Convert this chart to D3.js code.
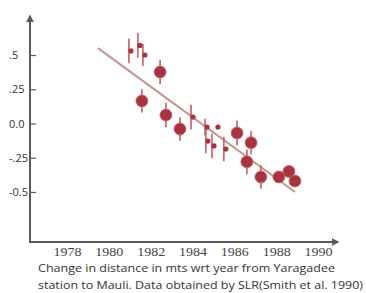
<!DOCTYPE html>
<html>
<head>
<meta charset="utf-8">
<script src="https://cdn.jsdelivr.net/npm/d3@7"></script>
<style>
  body { margin: 0; background: #fff; }
  svg { display: block; }
</style>
</head>
<body>
<div id="chart"></div>
<script>
const width = 366, height = 293;

// year, value, error (half bar)
const bigPoints = [
  [1981.58, 0.165, 0.085],
  [1982.45, 0.376, 0.09],
  [1982.73, 0.062, 0.09],
  [1983.40, -0.04, 0.085],
  [1986.13, -0.069, 0.09],
  [1986.80, -0.14, 0.085],
  [1986.60, -0.28, 0.09],
  [1987.27, -0.39, 0.085],
  [1988.13, -0.39, 0.02],
  [1988.61, -0.35, 0.02],
  [1988.90, -0.42, 0.02]
];
const smallPoints = [
  [1980.96, 0.53, 0.09],
  [1981.39, 0.57, 0.09],
  [1981.63, 0.50, 0.08],
  [1983.93, 0.047, 0.09],
  [1984.60, -0.026, 0.06],
  [1985.12, -0.026, 0.0],
  [1984.64, -0.128, 0.09],
  [1984.93, -0.164, 0.09],
  [1985.50, -0.186, 0.09]
];
const trend = [[1979.48, 0.55], [1988.9, -0.50]];
const xTicks = [1978, 1980, 1982, 1984, 1986, 1988, 1990];
const yTicks = [0.5, 0.25, 0, -0.25, -0.5];
const yTickLabels = [".5", ".25", "0.0", "-.25", "-0.5"];
const caption = [
  "Change in distance in mts  wrt year from Yaragadee",
  "station to Mauli. Data obtained  by SLR(Smith et al. 1990)"
];

const x = d3.scaleLinear().domain([1978, 1990]).range([67, 318]);
const y = d3.scaleLinear().domain([-0.5, 0.5]).range([192, 55]);

const axisX = 30, axisY = 242;
const axisColor = "#5a5a5a";

const svg = d3.select("#chart").append("svg")
    .attr("width", width)
    .attr("height", height);

const defs = svg.append("defs");
defs.append("marker")
    .attr("id", "arrow")
    .attr("viewBox", "0 0 10 10")
    .attr("refX", 8).attr("refY", 5)
    .attr("markerWidth", 4).attr("markerHeight", 4)
    .attr("orient", "auto")
  .append("path")
    .attr("d", "M0,0L10,5L0,10z")
    .attr("fill", axisColor);

// axis lines
svg.append("line")
    .attr("x1", axisX).attr("y1", axisY)
    .attr("x2", axisX).attr("y2", 16)
    .attr("stroke", axisColor).attr("stroke-width", 2)
    .attr("marker-end", "url(#arrow)");
svg.append("line")
    .attr("x1", axisX - 1).attr("y1", axisY)
    .attr("x2", 338).attr("y2", axisY)
    .attr("stroke", axisColor).attr("stroke-width", 2)
    .attr("marker-end", "url(#arrow)");

// y ticks
const gy = svg.append("g")
    .attr("transform", `translate(${axisX},0)`)
    .call(d3.axisLeft(y).tickValues(yTicks).tickSize(-6)
        .tickFormat((d, i) => yTickLabels[i]));
gy.select(".domain").remove();
gy.selectAll(".tick line").attr("stroke", axisColor).attr("stroke-width", 1.2);
gy.selectAll(".tick text")
    .attr("x", -21)
    .attr("text-anchor", "start")
    .attr("fill", "#333")
    .attr("font-family", "Open Sans, sans-serif")
    .attr("font-size", 11);

// x labels
const gx = svg.append("g")
    .attr("transform", `translate(0,${axisY})`)
    .call(d3.axisBottom(x).tickValues(xTicks).tickSize(0).tickFormat(d3.format("d")));
gx.select(".domain").remove();
gx.selectAll(".tick text")
    .attr("y", 5)
    .attr("fill", "#444")
    .attr("font-family", "Liberation Serif, serif")
    .attr("font-size", 13)
    .attr("textLength", 28)
    .attr("lengthAdjust", "spacingAndGlyphs");

// trend line
svg.append("path")
    .attr("d", d3.line().x(d => x(d[0])).y(d => y(d[1]))(trend))
    .attr("stroke", "#c29494")
    .attr("stroke-width", 2)
    .attr("fill", "none");

const barColor = "#cc5a64";
const dotColor = "#a8343f";

// error bars
svg.append("g").selectAll("line")
  .data(bigPoints.concat(smallPoints))
  .join("line")
    .attr("x1", d => x(d[0])).attr("x2", d => x(d[0]))
    .attr("y1", d => y(d[1] + d[2])).attr("y2", d => y(d[1] - d[2]))
    .attr("stroke", barColor)
    .attr("stroke-width", 1.6);

svg.append("g").selectAll("circle")
  .data(bigPoints)
  .join("circle")
    .attr("cx", d => x(d[0]))
    .attr("cy", d => y(d[1]))
    .attr("r", 6)
    .attr("fill", dotColor)
    .attr("stroke", "#c46a72")
    .attr("stroke-width", 0.8);

svg.append("g").selectAll("circle")
  .data(smallPoints)
  .join("circle")
    .attr("cx", d => x(d[0]) + 2)
    .attr("cy", d => y(d[1]))
    .attr("r", 2.6)
    .attr("fill", dotColor);

// caption
svg.append("g").selectAll("text")
  .data(caption)
  .join("text")
    .attr("x", 38)
    .attr("y", (d, i) => 272 + i * 17)
    .attr("fill", "#333")
    .attr("font-family", "Open Sans, sans-serif")
    .attr("font-size", 11)
    .attr("textLength", (d, i) => i === 0 ? 297 : 325)
    .attr("lengthAdjust", "spacingAndGlyphs")
    .text(d => d);
</script>
</body>
</html>
